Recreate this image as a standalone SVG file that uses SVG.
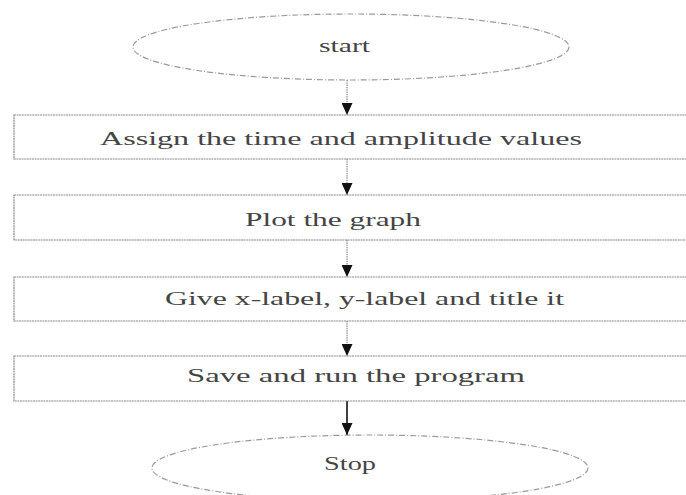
<svg xmlns="http://www.w3.org/2000/svg" width="686" height="495" viewBox="0 0 686 495">
<defs>
<style>
.box{fill:#fff;stroke:#8a8a8a;stroke-width:1.2;stroke-dasharray:2 0.6}
.term{fill:#fff;stroke:#9a9a9a;stroke-width:1.2;stroke-dasharray:6 2 1 2}
.lbl{font-family:"Liberation Serif","Times New Roman",serif;font-size:19px;fill:#444;text-anchor:start}
.conn{stroke:#777;stroke-width:1;stroke-dasharray:1.5 0.8;fill:none}
.conn.dark{stroke:#111;stroke-width:1.6;stroke-dasharray:none}
</style>
<marker id="ah" viewBox="0 0 12 11" refX="12" refY="5.5" markerWidth="12" markerHeight="11" markerUnits="userSpaceOnUse" orient="auto">
<path d="M0,0 L12,5.5 L0,11 Z" fill="#111"/>
</marker>
</defs>
<rect width="686" height="495" fill="#fff"/>
<g id="connectors">
<line class="conn" x1="347" y1="80" x2="347" y2="115" marker-end="url(#ah)"/>
<line class="conn" x1="347" y1="159" x2="347" y2="195" marker-end="url(#ah)"/>
<line class="conn" x1="347" y1="240" x2="347" y2="277" marker-end="url(#ah)"/>
<line class="conn" x1="347" y1="321" x2="347" y2="356" marker-end="url(#ah)"/>
<line class="conn dark" x1="347" y1="401" x2="347" y2="435" marker-end="url(#ah)"/>
</g>
<g id="start">
<ellipse class="term" cx="351" cy="47" rx="218" ry="33"/>
<text class="lbl" x="319" y="52" textLength="51" lengthAdjust="spacingAndGlyphs">start</text>
</g>
<g id="assign">
<rect class="box" x="14" y="115" width="690" height="44"/>
<text class="lbl" x="100" y="145" textLength="482" lengthAdjust="spacingAndGlyphs">Assign the time and amplitude values</text>
</g>
<g id="plot">
<rect class="box" x="14" y="195" width="690" height="45"/>
<text class="lbl" x="245" y="226" textLength="176" lengthAdjust="spacingAndGlyphs">Plot the graph</text>
</g>
<g id="labels">
<rect class="box" x="14" y="277" width="690" height="44"/>
<text class="lbl" x="165" y="305" textLength="399" lengthAdjust="spacingAndGlyphs">Give x-label, y-label and title it</text>
</g>
<g id="save">
<rect class="box" x="14" y="356" width="690" height="45"/>
<text class="lbl" x="187" y="382" textLength="338" lengthAdjust="spacingAndGlyphs">Save and run the program</text>
</g>
<g id="stop">
<ellipse class="term" cx="370" cy="468" rx="218" ry="33"/>
<text class="lbl" x="324" y="470" textLength="52" lengthAdjust="spacingAndGlyphs">Stop</text>
</g>
</svg>
